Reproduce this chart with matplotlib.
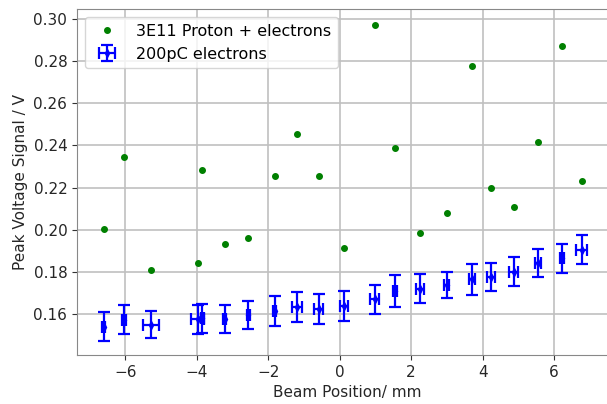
import matplotlib
matplotlib.use('Agg')
import matplotlib.pyplot as plt
import numpy as np

# beam positions (mm)
pos = [-6.61, -6.03, -5.28, -3.97, -3.84, -3.22, -2.56, -1.82, -1.19, -0.59, 0.12,
       0.98, 1.55, 2.25, 2.99, 3.71, 4.23, 4.87, 5.56, 6.22, 6.77]

# 3E11 Proton + electrons
proton_v = [0.2005, 0.2343, 0.1807, 0.1840, 0.2284, 0.1933, 0.1959, 0.2257, 0.2452, 0.2257, 0.1914,
            0.2971, 0.2390, 0.1983, 0.2078, 0.2775, 0.2200, 0.2108, 0.2414, 0.2871, 0.2229]

# 200pC electrons
elec_v = [0.1540, 0.1574, 0.1550, 0.1575, 0.1580, 0.1577, 0.1597, 0.1616, 0.1635, 0.1624, 0.1638,
          0.1669, 0.1710, 0.1721, 0.1736, 0.1765, 0.1776, 0.1800, 0.1843, 0.1864, 0.1905]
elec_yerr = [0.0068, 0.0067, 0.0066, 0.0068, 0.0068, 0.0067, 0.0066, 0.0071, 0.0071, 0.0071, 0.0070,
             0.0069, 0.0075, 0.0069, 0.0062, 0.0073, 0.0068, 0.0069, 0.0066, 0.0069, 0.0068]
elec_xerr = [0.03, 0.05, 0.23, 0.18, 0.05, 0.05, 0.04, 0.05, 0.14, 0.12, 0.12,
             0.12, 0.05, 0.12, 0.06, 0.08, 0.12, 0.12, 0.08, 0.05, 0.15]

fig = plt.figure(figsize=(6.07, 4.04), dpi=100)
ax = fig.add_axes([0.127, 0.121, 0.89, 0.856])

ax.plot(pos, proton_v, 'o', color='green', markersize=4, label='3E11 Proton + electrons')
ax.errorbar(pos, elec_v, yerr=elec_yerr, xerr=elec_xerr, fmt='d', color='blue',
            markersize=4, elinewidth=1.6, capsize=4.3, capthick=1.6, label='200pC electrons')

ax.set_xticks([-6, -4, -2, 0, 2, 4, 6])
ax.set_yticks([0.16, 0.18, 0.20, 0.22, 0.24, 0.26, 0.28, 0.30])
ax.set_ylim(0.1405, 0.3046)
ax.set_xlim(-7.35, 7.77)
ax.tick_params(labelsize=11, colors='#333333', labelcolor='#262626')
ax.set_xlabel('Beam Position/ mm', fontsize=11, color='#262626')
ax.set_ylabel('Peak Voltage Signal / V', fontsize=11, color='#262626')
ax.grid(True, color='#c0c0c0', linewidth=1.2)
for s in ax.spines.values():
    s.set_color('#888888')

ax.legend(loc='upper left', fontsize=11.5)

fig.savefig('out.png', dpi=100)
